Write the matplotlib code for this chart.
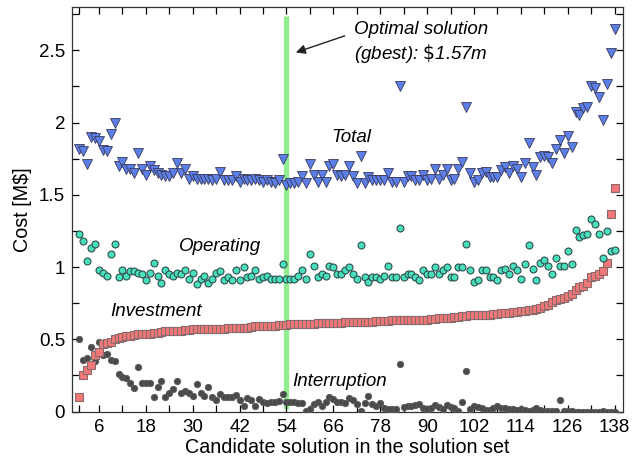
import matplotlib
matplotlib.use("Agg")
import matplotlib.pyplot as plt
from matplotlib.ticker import MultipleLocator, FixedLocator

plt.rcParams['font.family'] = ['Liberation Sans', 'DejaVu Sans']

total = [1.82, 1.80, 1.71, 1.90, 1.89, 1.87, 1.81, 1.80, 1.92, 2.00,
         1.70, 1.73, 1.68, 1.68, 1.65, 1.79, 1.68, 1.64, 1.70, 1.67,
         1.65, 1.64, 1.63, 1.63, 1.65, 1.72, 1.65, 1.68, 1.61, 1.63,
         1.61, 1.61, 1.61, 1.61, 1.60, 1.61, 1.66, 1.60, 1.60, 1.60,
         1.63, 1.59, 1.61, 1.60, 1.60, 1.61, 1.60, 1.59, 1.60, 1.59,
         1.58, 1.60, 1.75, 1.57, 1.58, 1.58, 1.59, 1.63, 1.58, 1.71,
         1.64, 1.59, 1.64, 1.59, 1.70, 1.71, 1.64, 1.63, 1.64, 1.70,
         1.63, 1.58, 1.77, 1.58, 1.62, 1.60, 1.60, 1.60, 1.60, 1.65,
         1.59, 1.59, 2.25, 1.59, 1.63, 1.63, 1.60, 1.60, 1.64, 1.60,
         1.61, 1.68, 1.61, 1.64, 1.68, 1.60, 1.61, 1.68, 1.73, 2.11,
         1.65, 1.59, 1.60, 1.65, 1.66, 1.62, 1.62, 1.62, 1.67, 1.69,
         1.65, 1.70, 1.68, 1.62, 1.72, 1.86, 1.69, 1.64, 1.76, 1.77,
         1.76, 1.72, 1.82, 1.88, 1.79, 1.91, 1.83, 2.07, 2.05, 2.10,
         2.11, 2.25, 2.24, 2.18, 2.02, 2.27, 2.48, 2.65]

operating = [1.23, 1.18, 1.04, 1.13, 1.16, 0.98, 0.96, 0.94, 1.09, 1.16,
             0.93, 0.98, 0.94, 0.97, 0.97, 0.96, 0.95, 0.91, 0.96, 1.03,
             0.94, 0.89, 0.98, 0.95, 0.94, 0.96, 0.95, 0.98, 0.92, 0.96,
             0.88, 0.92, 0.94, 0.89, 0.92, 0.96, 0.97, 0.91, 0.93, 0.91,
             0.98, 0.91, 1.00, 0.93, 0.94, 0.98, 0.92, 0.93, 0.94, 0.92,
             0.92, 0.92, 1.02, 0.92, 0.92, 0.92, 0.94, 0.98, 0.92, 1.09,
             1.01, 0.93, 0.95, 0.94, 1.01, 1.00, 0.95, 0.95, 0.98, 1.00,
             0.95, 0.92, 1.15, 0.93, 0.90, 0.93, 0.93, 0.92, 0.94, 1.01,
             0.93, 0.93, 1.27, 0.93, 0.95, 0.95, 0.93, 0.91, 0.98, 0.95,
             0.95, 1.00, 0.95, 0.98, 1.00, 0.93, 0.93, 1.00, 1.00, 1.16,
             0.98, 0.90, 0.91, 0.98, 0.98, 0.93, 0.93, 0.91, 0.98, 0.99,
             0.95, 1.01, 0.98, 0.92, 1.02, 1.15, 0.99, 0.91, 1.03, 1.05,
             1.01, 0.95, 1.06, 1.01, 1.01, 1.11, 1.02, 1.26, 1.21, 1.22,
             1.23, 1.33, 1.30, 1.23, 1.06, 1.25, 1.11, 1.12]

investment = [0.10, 0.25, 0.29, 0.32, 0.39, 0.41, 0.47, 0.475, 0.485, 0.505,
              0.51, 0.515, 0.52, 0.525, 0.53, 0.535, 0.535, 0.54, 0.54, 0.545,
              0.545, 0.55, 0.555, 0.555, 0.56, 0.56, 0.56, 0.565, 0.565, 0.57,
              0.57, 0.57, 0.57, 0.57, 0.57, 0.575, 0.575, 0.575, 0.58, 0.58,
              0.58, 0.58, 0.58, 0.58, 0.585, 0.59, 0.595, 0.595, 0.595, 0.595,
              0.595, 0.60, 0.60, 0.60, 0.605, 0.605, 0.605, 0.605, 0.605, 0.605,
              0.605, 0.61, 0.61, 0.615, 0.615, 0.615, 0.615, 0.615, 0.62, 0.62,
              0.62, 0.62, 0.62, 0.62, 0.62, 0.62, 0.625, 0.63, 0.63, 0.63,
              0.635, 0.635, 0.635, 0.635, 0.635, 0.635, 0.635, 0.635, 0.635, 0.635,
              0.64, 0.64, 0.645, 0.645, 0.645, 0.65, 0.655, 0.655, 0.66, 0.66,
              0.665, 0.665, 0.665, 0.67, 0.67, 0.67, 0.675, 0.675, 0.68, 0.68,
              0.685, 0.69, 0.69, 0.695, 0.695, 0.70, 0.705, 0.71, 0.72, 0.73,
              0.74, 0.755, 0.77, 0.78, 0.785, 0.80, 0.815, 0.84, 0.865, 0.87,
              0.89, 0.93, 0.94, 0.955, 0.97, 1.03, 1.37, 1.55]

interruption = [0.50, 0.36, 0.37, 0.45, 0.35, 0.48, 0.39, 0.40, 0.36, 0.35,
                0.26, 0.24, 0.23, 0.20, 0.16, 0.31, 0.20, 0.20, 0.20, 0.10,
                0.17, 0.21, 0.10, 0.13, 0.155, 0.21, 0.13, 0.145, 0.127, 0.109,
                0.19, 0.127, 0.109, 0.168, 0.104, 0.081, 0.122, 0.104, 0.104, 0.10,
                0.115, 0.081, 0.04, 0.092, 0.081, 0.04, 0.085, 0.069, 0.062, 0.069,
                0.069, 0.076, 0.122, 0.069, 0.069, 0.069, 0.058, 0.062, 0.007, 0.016,
                0.053, 0.069, 0.042, 0.069, 0.099, 0.09, 0.069, 0.069, 0.058, 0.092,
                0.081, 0.053, 0.007, 0.062, 0.109, 0.053, 0.039, 0.062, 0.023, 0.016,
                0.016, 0.016, 0.33, 0.030, 0.039, 0.039, 0.046, 0.053, 0.023, 0.016,
                0.023, 0.046, 0.030, 0.016, 0.046, 0.035, 0.023, 0.007, 0.069, 0.284,
                0.016, 0.039, 0.030, 0.023, 0.012, 0.012, 0.023, 0.039, 0.023, 0.023,
                0.016, 0.016, 0.012, 0.016, 0.012, 0.007, 0.012, 0.023, 0.012, 0.007,
                0.007, 0.007, 0.007, 0.081, 0.007, 0.007, 0.007, 0.0, 0.0, 0.0,
                0.0, 0.0, 0.0, 0.0, 0.007, 0.0, 0.0, 0.0]

solutions = list(range(1, len(total) + 1))
optimal_idx = 54
xtick_labels = [6, 18, 30, 42, 54, 66, 78, 90, 102, 114, 126, 138]
ytick_values = [0, 0.5, 1, 1.5, 2, 2.5]
ytick_labels = ['0', '0.5', '1', '1.5', '2', '2.5']

fig = plt.figure(figsize=(6.32, 4.63), dpi=100)
ax = fig.add_axes([0.114, 0.111, 0.872, 0.874])

ax.plot([optimal_idx, optimal_idx], [0.02, 2.74], color='#90EE90', lw=3.8,
        solid_capstyle='butt', zorder=1)

ax.plot(solutions, interruption, 'o', ms=4.6, mfc='#4a4a4a', mec='#5a5a5a',
        mew=0.6, ls='none', zorder=3)
ax.plot(solutions, investment, 's', ms=6.2, mfc='#f07878', mec='#8a6a6a',
        mew=0.8, ls='none', zorder=3)
ax.plot(solutions, operating, 'o', ms=5.0, mfc='#48e0bc', mec='#2f4f4f',
        mew=0.8, ls='none', zorder=3)
ax.plot(solutions, total, 'v', ms=7.0, mfc='#5b7fe6', mec='#3a3a5a',
        mew=0.6, ls='none', zorder=3)

ax.set_xlim(-0.9, 140.2)
ax.set_ylim(0, 2.8)
ax.xaxis.set_major_locator(FixedLocator(xtick_labels))
ax.xaxis.set_minor_locator(FixedLocator([1] + list(range(12, 139, 12))))
ax.set_xticklabels([str(v) for v in xtick_labels])
ax.set_yticks(ytick_values)
ax.set_yticklabels(ytick_labels)
ax.yaxis.set_minor_locator(MultipleLocator(0.25))
ax.tick_params(which='both', direction='in', top=True, right=True,
               length=5, width=0.9, labelsize=13.5, pad=5)
for sp in ax.spines.values():
    sp.set_linewidth(0.9)
    sp.set_color('#333333')

ax.set_xlabel('Candidate solution in the solution set', fontsize=14.2, labelpad=2)
ax.set_ylabel('Cost [M$]', fontsize=14.2, labelpad=5)

ax.text(70.7, 1.90, 'Total', fontsize=13.5, style='italic', ha='center', va='center')
ax.text(37, 1.14, 'Operating', fontsize=13.5, style='italic', ha='center', va='center')
ax.text(20.5, 0.69, 'Investment', fontsize=13.5, style='italic', ha='center', va='center')
ax.text(67.5, 0.21, 'Interruption', fontsize=13.5, style='italic', ha='center', va='center')
ax.text(71.2, 2.548, 'Optimal solution\n(gbest): $\\$$1.57m', fontsize=13.5,
        style='italic', ha='left', va='center', linespacing=1.25)
ax.annotate('', xy=(56.4, 2.485), xytext=(68.9, 2.60),
            arrowprops=dict(arrowstyle='-|>', color='#222222', lw=1.0,
                            mutation_scale=14, shrinkA=0, shrinkB=0))

fig.savefig('out.png', dpi=100)
